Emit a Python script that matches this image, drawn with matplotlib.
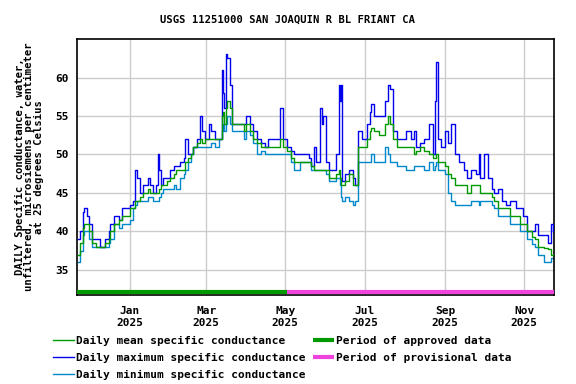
import numpy as np
import matplotlib
matplotlib.use("Agg")
import matplotlib.pyplot as plt
import matplotlib.dates as mdates
import matplotlib.transforms as mtransforms

# days since 2025-01-01
days = [-40, -38, -36, -35, -33, -31, -29, -26, -23, -19, -16, -15, -12, -8, -6, -2,
        0, 3, 4, 6, 8, 10, 12, 14, 16, 18, 20, 22, 23, 24, 26, 29, 31, 34, 36, 39,
        42, 43, 45, 47, 49, 52, 54, 56, 58, 61, 63, 66, 69, 71, 72, 73, 74, 75, 77,
        79, 84, 88, 90, 93, 95, 98, 101, 104, 107, 111, 115, 116, 118, 121, 124, 127,
        131, 138, 140, 142, 144, 147, 148, 149, 151, 154, 157, 159, 161, 162, 163, 164,
        166, 169, 172, 174, 176, 179, 183, 185, 186, 188, 192, 196, 197, 199, 201, 203,
        206, 211, 213, 217, 219, 221, 224, 227, 231, 234, 235, 236, 238, 240, 243, 245,
        248, 251, 254, 258, 260, 263, 267, 269, 270, 273, 276, 279, 281, 284, 287, 290,
        293, 298, 301, 303, 306, 310, 312, 315, 319, 322, 325, 326]

max_sc = [39, 40, 42.5, 43, 42, 41, 39, 39, 38, 39, 40, 41, 42, 41.5, 43, 43,
          43.5, 44, 48, 47, 45, 46, 46, 47, 46, 45, 46, 50, 48, 46, 47, 47, 48, 48.5, 48.5, 49,
          49.5, 52, 50, 50, 51, 52, 55, 53, 52, 54, 53, 52, 52, 61, 58, 56, 63, 62.5, 59,
          54, 54, 54, 55, 54, 53, 52, 51.5, 51, 52, 52, 52, 56, 52, 51, 50.5, 50,
          50, 49.5, 48.5, 51, 49, 56, 54, 55, 49, 48, 48, 50, 59, 57, 59, 46.5,
          47.5, 48, 47, 46, 53, 52, 54, 55.5, 56.5, 55, 55, 55, 57, 59, 58.5, 53,
          52, 52, 53, 52, 53, 51, 51.5, 52, 54, 50, 57, 62, 52, 51, 53, 51.5,
          54, 50, 49, 48, 47, 48, 47.5, 50, 47, 50, 47, 45.5, 45, 45.5, 44, 43.5,
          44, 43, 43, 42, 40, 40, 41, 39.5, 39.5, 38.5, 41, 40]

mean_sc = [37, 38.5, 40.5, 41, 41, 40, 38.5, 38, 38, 38.5, 39, 40, 41, 41.5, 42, 42,
           43, 43, 44, 44, 44.5, 45, 45, 45.5, 45, 45, 45, 45, 45.5, 46, 46, 46.5, 47, 47.5, 48, 48,
           48, 49, 49.5, 50, 51, 51.5, 52, 51.5, 52, 52, 52, 52, 52, 55, 55.5, 54, 56, 57, 56,
           54, 54, 53, 54, 53, 52, 51.5, 51, 51, 51, 51, 51, 52, 51, 50.5, 49.5, 49,
           49, 49, 48.5, 48, 48, 48, 48, 48, 48, 47, 47, 47.5, 48, 47, 46, 46,
           46.5, 47.5, 46, 46, 51, 51, 52, 53, 53.5, 53, 52.5, 52.5, 54, 55, 54, 52,
           51, 51, 51, 51, 50, 50.5, 51, 50.5, 50, 49.5, 49.5, 50, 49, 49, 48.5, 47.5,
           47, 46, 46, 46, 45, 46, 46, 46, 45, 45, 45, 44.5, 44, 43, 43, 43,
           42, 42, 41, 41, 40, 39.3, 39, 38, 37.8, 37.7, 37, 37]

min_sc = [36, 37.5, 39.5, 40, 40, 39, 38, 38, 38, 38, 38.5, 39, 41, 40.5, 41, 41,
          41.5, 43, 43.5, 44, 44, 44, 44, 44.5, 44.5, 44, 44, 44, 44.5, 45, 45.5, 45.5, 45.5, 46, 45.5, 47,
          47.5, 48, 49, 50, 51, 51, 51, 51, 51, 51, 51.5, 51, 52, 53, 54, 53, 54, 55, 54,
          53, 53, 52, 53, 52.5, 51.5, 50, 50.5, 50, 50, 50, 50, 50, 50, 50, 49, 48,
          49, 49, 48, 48, 48, 48, 48, 48, 47.5, 46.5, 46.5, 47, 47, 46, 44.5, 44,
          44.5, 44, 43.5, 44, 49, 49, 49, 49, 50, 49, 49, 49, 51, 50, 49, 49,
          48.5, 48.5, 48, 48, 48.5, 48.5, 48.5, 48, 49, 48, 48.5, 49, 48, 48, 47.5, 45,
          44, 43.5, 43.5, 43.5, 43.5, 44, 44, 43.5, 44, 44, 44, 43.5, 43, 42, 42, 42,
          41, 41, 40, 40, 39, 38.4, 38, 37, 36, 36, 36.5, 36.5]

approved_end = 121  # days since 2025-01-01 (May 2)
month_ticks = ["2025-01-01", "2025-03-01", "2025-05-01", "2025-07-01", "2025-09-01", "2025-11-01"]
y_ticks = [35, 40, 45, 50, 55, 60]

base = np.datetime64("2025-01-01")
dates = base + np.array(days).astype("timedelta64[D]")

font = "DejaVu Sans Mono"
plt.rcParams["font.family"] = font
plt.rcParams["font.weight"] = "bold"

fig = plt.figure(figsize=(5.76, 3.84), dpi=100)
ax = fig.add_axes([0.1337, 0.2318, 0.8281, 0.6666])

ax.plot(dates, mean_sc, color="#009900", lw=1, drawstyle="steps-post",
        label="Daily mean specific conductance", zorder=4)
ax.plot(dates, max_sc, color="#0000ee", lw=1, drawstyle="steps-post",
        label="Daily maximum specific conductance", zorder=3)
ax.plot(dates, min_sc, color="#0088cc", lw=1, drawstyle="steps-post",
        label="Daily minimum specific conductance", zorder=2)

x0 = mdates.date2num(base) - 40.5
x1 = mdates.date2num(base) + 327
xm = mdates.date2num(base) + approved_end
trans = mtransforms.blended_transform_factory(ax.transData, ax.transAxes)
ax.plot([x0, xm], [0.01, 0.01], color="#009900", lw=3, transform=trans,
        solid_capstyle="butt", label="Period of approved data", zorder=5)
ax.plot([xm, x1], [0.01, 0.01], color="#ee44dd", lw=3, transform=trans,
        solid_capstyle="butt", label="Period of provisional data", zorder=5)

ax.set_xlim(x0, x1)
ax.set_ylim(31.75, 65)
ax.set_xticks([mdates.date2num(np.datetime64(m)) for m in month_ticks])
ax.set_xticklabels([np.datetime64(m).astype(object).strftime("%b\n%Y") for m in month_ticks])
ax.set_yticks(y_ticks)
ax.tick_params(length=0, labelsize=8)
ax.tick_params(axis="x", pad=8)
ax.tick_params(axis="y", pad=6)
ax.grid(True, color="#cccccc", lw=1)
ax.set_axisbelow(True)
for s in ax.spines.values():
    s.set_linewidth(1.2)

fig.text(0.5, 1 - 20 / 384, "USGS 11251000 SAN JOAQUIN R BL FRIANT CA", fontsize=7.6,
         fontweight="bold", ha="center", va="center")
ax.set_ylabel("DAILY Specific conductance, water,\nunfiltered, microsiemens per centimeter\nat 25 degrees Celsius",
              fontsize=7.6, fontweight="bold", linespacing=0.95, labelpad=8)

fig.legend(loc="upper left", bbox_to_anchor=(0.092, 0.125), ncol=2, frameon=False,
           fontsize=8, handlelength=1.9, handletextpad=0.15, labelspacing=0.62,
           columnspacing=0.7, borderaxespad=0, borderpad=0)

fig.savefig("out.png", dpi=100)
